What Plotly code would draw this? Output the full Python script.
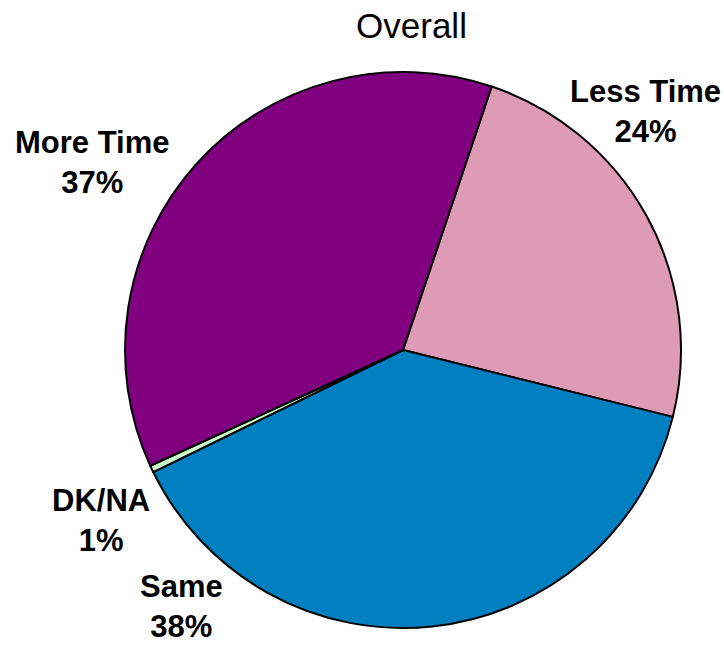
import plotly.graph_objects as go

categories = ["Less Time", "Same", "DK/NA", "More Time"]
values = [23.7, 38.9, 0.4, 37.0]
pct_labels = ["24%", "38%", "1%", "37%"]
colors = ["#DE9BB4", "#0080C0", "#CCFFCC", "#800080"]

W, H = 724, 645
cx, cy, r = 403, 350, 278

fig = go.Figure(go.Pie(
    labels=categories,
    values=values,
    sort=False,
    direction="clockwise",
    rotation=18.6,
    marker=dict(colors=colors, line=dict(color="black", width=2)),
    textinfo="none",
    hoverinfo="label+percent",
    showlegend=False,
    domain=dict(x=[(cx - r) / W, (cx + r) / W], y=[(H - cy - r) / H, (H - cy + r) / H]),
))

# label positions (pixels) for each category
label_pos = {"Less Time": (645, 111), "Same": (181, 606), "DK/NA": (101, 520), "More Time": (92, 162)}
for cat, pct in zip(categories, pct_labels):
    px, py = label_pos[cat]
    fig.add_annotation(
        x=px / W, y=1 - py / H, xref="paper", yref="paper",
        text=f"<b>{cat}<br>{pct}</b>", showarrow=False,
        xanchor="center", yanchor="middle", align="center",
        font=dict(family="Liberation Sans, Arial, sans-serif", size=31, color="black"),
    )

fig.update_layout(
    width=W, height=H,
    margin=dict(l=0, r=0, t=0, b=0),
    paper_bgcolor="white", plot_bgcolor="white",
    title=dict(text="Overall", x=411.5 / W, y=1 - 25.5 / H, xanchor="center", yanchor="middle",
               font=dict(family="Liberation Sans, Arial, sans-serif", size=35, color="black")),
)

fig.write_html("out.html", config={"displayModeBar": False},
               post_script="document.body.style.margin='0px';")
